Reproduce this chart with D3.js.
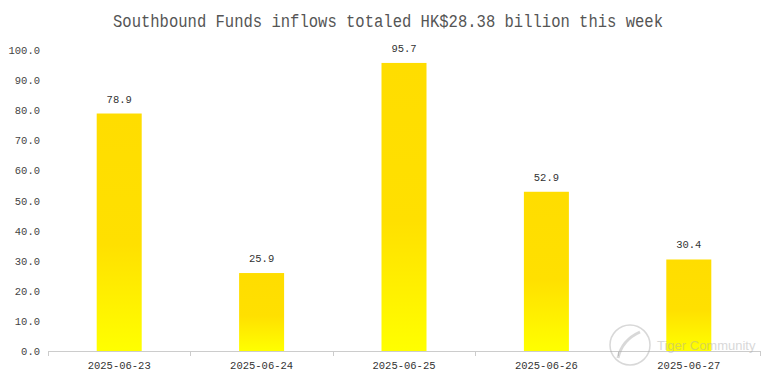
<!DOCTYPE html>
<html><head><meta charset="utf-8">
<script src="https://cdn.jsdelivr.net/npm/d3@7"></script>
<style>body{margin:0;background:#fff}svg{display:block}</style>
</head><body>
<script>
const categories = ["2025-06-23","2025-06-24","2025-06-25","2025-06-26","2025-06-27"];
const values = [78.9, 25.9, 95.7, 52.9, 30.4];
const yTicks = [0,10,20,30,40,50,60,70,80,90,100];
const title = "Southbound Funds inflows totaled HK$28.38 billion this week";

const W = 775, H = 384;
const m = {left:48, right:15, top:50, bottom:33};
const svg = d3.select("body").append("svg").attr("width",W).attr("height",H);
const defs = svg.append("defs");
const g = defs.append("linearGradient").attr("id","bg").attr("x1",0).attr("y1",0).attr("x2",0).attr("y2",1);
g.append("stop").attr("offset","0%").attr("stop-color","#ffdd00");
g.append("stop").attr("offset","55%").attr("stop-color","#ffe000");
g.append("stop").attr("offset","100%").attr("stop-color","#ffff00");

const x = d3.scaleBand().domain(categories).range([m.left, W-m.right]).paddingInner(0).paddingOuter(0);
const y = d3.scaleLinear().domain([0,100]).range([H-m.bottom, m.top]);
const mono = "'Liberation Mono','DejaVu Sans Mono',monospace";

svg.append("text").attr("x",388).attr("y",27).attr("text-anchor","middle")
  .attr("font-family",mono).attr("font-size",18.5).attr("fill","#555")
  .attr("textLength",550).attr("lengthAdjust","spacingAndGlyphs").text(title);

// y labels
svg.selectAll(".yl").data(yTicks).enter().append("text")
  .attr("x",40).attr("y",d=>y(d)+4).attr("text-anchor","end")
  .attr("font-family",mono).attr("font-size",10.5).attr("fill","#444")
  .text(d=>d.toFixed(1));

// bars
const bw = 45;
svg.selectAll(".bar").data(values).enter().append("rect")
  .attr("x",(d,i)=>x(categories[i])+x.bandwidth()/2-bw/2)
  .attr("y",d=>y(d)).attr("width",bw).attr("height",d=>y(0)-y(d))
  .attr("fill","url(#bg)");

svg.selectAll(".vl").data(values).enter().append("text")
  .attr("x",(d,i)=>x(categories[i])+x.bandwidth()/2).attr("y",d=>y(d)-11)
  .attr("text-anchor","middle").attr("font-family",mono).attr("font-size",10.5).attr("fill","#333")
  .text(d=>d.toFixed(1));

// x axis
const ax = svg.append("g");
ax.append("line").attr("x1",m.left).attr("x2",W-m.right).attr("y1",y(0)+0.5).attr("y2",y(0)+0.5).attr("stroke","#ccc");
const bounds = categories.map(c=>x(c)).concat([W-m.right]);
ax.selectAll(".tk").data(bounds).enter().append("line")
  .attr("x1",d=>Math.round(d)+0.5).attr("x2",d=>Math.round(d)+0.5)
  .attr("y1",y(0)).attr("y2",y(0)+5).attr("stroke","#ccc");
ax.selectAll(".xl").data(categories).enter().append("text")
  .attr("x",d=>x(d)+x.bandwidth()/2).attr("y",y(0)+18).attr("text-anchor","middle")
  .attr("font-family",mono).attr("font-size",10.5).attr("fill","#333").text(d=>d);

// watermark
const wm = svg.append("g").attr("opacity",0.45);
wm.append("circle").attr("cx",630).attr("cy",345).attr("r",20).attr("fill","none").attr("stroke","#aaa").attr("stroke-width",1.5);
wm.append("path").attr("d","M618 358 Q622 340 640 332").attr("fill","none").attr("stroke","#aaa").attr("stroke-width",3);
wm.append("text").attr("x",657).attr("y",350).attr("font-family","'Liberation Sans',Arial,sans-serif")
  .attr("font-size",13).attr("fill","#aaa").text("Tiger Community");
</script>
</body></html>
